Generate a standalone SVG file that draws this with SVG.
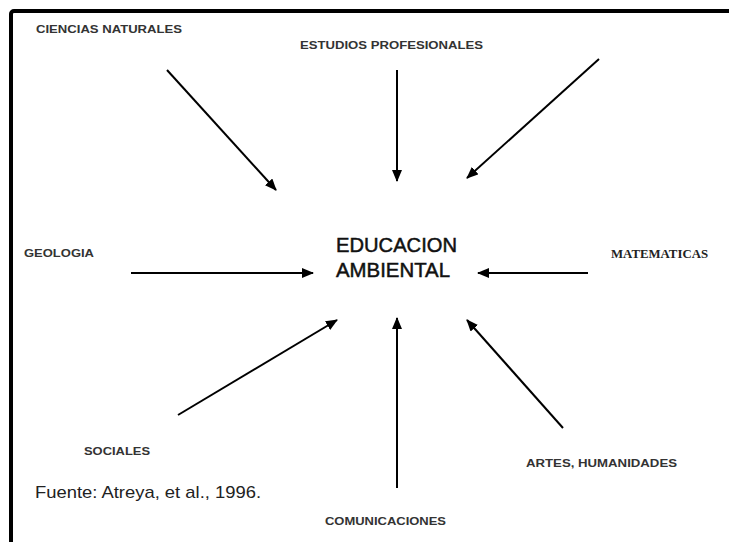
<svg xmlns="http://www.w3.org/2000/svg" width="729" height="542" viewBox="0 0 729 542">
<style>
.lbl{font-family:"Liberation Sans",Arial,sans-serif;font-size:11px;font-weight:bold;fill:#333}
.ser{font-family:"Liberation Serif","Times New Roman",serif;font-size:12px;font-weight:bold;fill:#222}
.big{font-family:"Liberation Sans",Arial,sans-serif;font-size:21px;fill:#111;stroke:#111;stroke-width:0.5}
.src{font-family:"Liberation Sans",Arial,sans-serif;font-size:17px;fill:#222}
.arr{stroke:#000;stroke-width:2;fill:none;marker-end:url(#ah)}
</style>
<defs>
<marker id="ah" viewBox="0 0 12 10" refX="11" refY="5" markerWidth="12" markerHeight="10" markerUnits="userSpaceOnUse" orient="auto">
<path d="M0,0 L12,5 L0,10 z" fill="#000"/>
</marker>
</defs>
<rect width="729" height="542" fill="#fff"/>
<rect x="11" y="11" width="760" height="560" rx="3" fill="none" stroke="#000" stroke-width="4"/>
<g id="connectors">
<line class="arr" x1="167" y1="70" x2="276" y2="190"/>
<line class="arr" x1="397" y1="70" x2="397" y2="181"/>
<line class="arr" x1="599" y1="59" x2="467" y2="178"/>
<line class="arr" x1="131" y1="273" x2="313" y2="273"/>
<line class="arr" x1="588" y1="273" x2="478" y2="273"/>
<line class="arr" x1="178" y1="415" x2="337" y2="320"/>
<line class="arr" x1="397" y1="488" x2="397" y2="318"/>
<line class="arr" x1="563" y1="428" x2="467" y2="320"/>
</g>
<g id="center"><text class="big" x="336" y="252" textLength="121" lengthAdjust="spacingAndGlyphs">EDUCACION</text><text class="big" x="336" y="277" textLength="114" lengthAdjust="spacingAndGlyphs">AMBIENTAL</text></g>
<g id="ciencias"><text class="lbl" x="36" y="33" textLength="146" lengthAdjust="spacingAndGlyphs">CIENCIAS NATURALES</text></g>
<g id="estudios"><text class="lbl" x="300" y="49" textLength="183" lengthAdjust="spacingAndGlyphs">ESTUDIOS PROFESIONALES</text></g>
<g id="geologia"><text class="lbl" x="24" y="257" textLength="70" lengthAdjust="spacingAndGlyphs">GEOLOGIA</text></g>
<g id="matematicas"><text class="ser" x="611" y="258" textLength="97" lengthAdjust="spacingAndGlyphs">MATEMATICAS</text></g>
<g id="sociales"><text class="lbl" x="84" y="455" textLength="66" lengthAdjust="spacingAndGlyphs">SOCIALES</text></g>
<g id="artes"><text class="lbl" x="526" y="467" textLength="151" lengthAdjust="spacingAndGlyphs">ARTES, HUMANIDADES</text></g>
<g id="comunicaciones"><text class="lbl" x="325" y="525" textLength="121" lengthAdjust="spacingAndGlyphs">COMUNICACIONES</text></g>
<g id="fuente"><text class="src" x="35" y="498" textLength="226" lengthAdjust="spacingAndGlyphs">Fuente: Atreya, et al., 1996.</text></g>
</svg>
